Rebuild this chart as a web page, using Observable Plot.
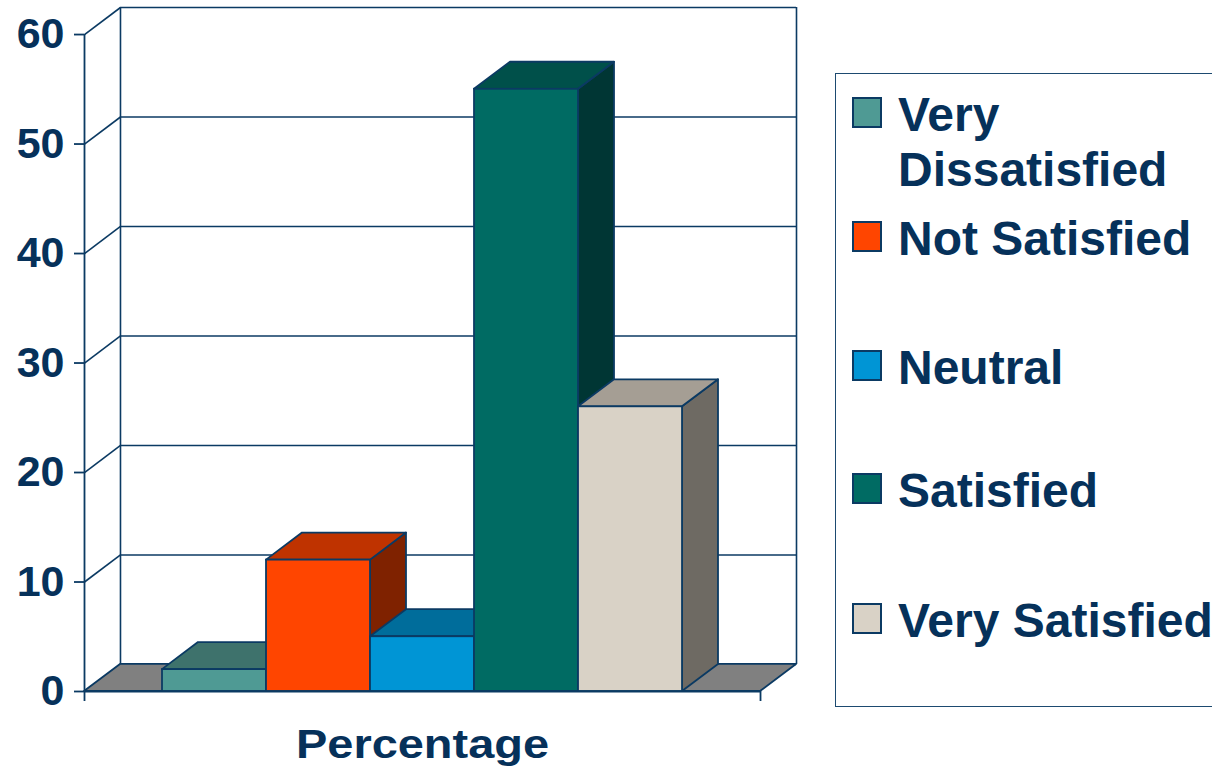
<!DOCTYPE html>
<html>
<head>
<meta charset="utf-8">
<script src="https://cdn.jsdelivr.net/npm/d3@7"></script>
<script src="https://cdn.jsdelivr.net/npm/@observablehq/plot@0.6"></script>
<style>
  html, body { margin: 0; padding: 0; background: #fff; }
  #wrap { position: relative; width: 1212px; height: 769px; overflow: hidden; font-family: "Liberation Sans", Arial, sans-serif; font-weight: bold; color: #06315a; }
  #chart { position: absolute; left: 0; top: 0; }
  #legend { position: absolute; left: 835px; top: 73px; width: 420px; height: 634px; border: 1.6px solid #1d4a70; box-sizing: border-box; }
  .sw { position: absolute; left: 852px; width: 30px; height: 31px; box-sizing: border-box; border: 2px solid #0b3a63; }
  .lab { position: absolute; left: 898px; width: 330px; font-size: 48px; line-height: 55px; white-space: normal; }
</style>
</head>
<body>
<div id="wrap">
  <div id="chart"></div>
  <div id="legend"></div>
</div>
<script>
// ---- data ----
const categories = ["Very Dissatisfied", "Not Satisfied", "Neutral", "Satisfied", "Very Satisfied"];
const values = [2, 12, 5, 55, 26];
const frontFill = ["#4f9a94", "#ff4500", "#0095d5", "#006b63", "#d9d2c6"];
const topFill = ["#3e726c", "#bf3300", "#006d9b", "#00504a", "#a59e94"];
const sideFill = ["#2f5450", "#7f2200", "#004a6a", "#003634", "#6e6a63"];
const yTicks = [0, 10, 20, 30, 40, 50, 60];
const xTitle = "Percentage";

// ---- layout ----
const NAVY = "#0b3a63";
const TEXT = "#06315a";
const D = 0.346;     // depth offset in x units
const Z = 2.47;      // depth offset in y units
const X0 = -0.75, X1 = categories.length + 0.75;
const YMAX = 60;

const bars = categories.map((cat, i) => ({cat, i, v: values[i]}));
const sidePts = bars.flatMap(b => [
  {cat: b.cat, x: b.i + 1, y1: 0, y2: b.v, fill: sideFill[b.i]},
  {cat: b.cat, x: b.i + 1 + D, y1: Z, y2: b.v + Z, fill: sideFill[b.i]}
]);
const topPts = bars.flatMap(b => [
  {cat: b.cat, y: b.v, x1: b.i, x2: b.i + 1, fill: topFill[b.i]},
  {cat: b.cat, y: b.v + Z, x1: b.i + D, x2: b.i + 1 + D, fill: topFill[b.i]}
]);
const floorPts = [{y: 0, x1: X0, x2: X1}, {y: Z, x1: X0 + D, x2: X1 + D}];
const leftWall = [{x: X0, y1: 0, y2: YMAX}, {x: X0 + D, y1: Z, y2: YMAX + Z}];

const W = 830;
const chart = Plot.plot({
  width: W, height: 769,
  marginLeft: 84, marginRight: W - 796, marginTop: 7, marginBottom: 78,
  x: {domain: [X0, X1 + D], axis: null},
  y: {domain: [0, YMAX + Z], axis: null},
  color: {type: "identity"},
  style: {fontFamily: "'Liberation Sans', Arial, sans-serif", fontWeight: "bold", color: TEXT, background: "white", overflow: "visible"},
  marks: [
    Plot.areaY(leftWall, {x: "x", y1: "y1", y2: "y2", fill: "white"}),
    Plot.ruleY(yTicks, {y: d => d + Z, x1: X0 + D, x2: X1 + D, stroke: NAVY, strokeWidth: 1.6}),
    Plot.ruleX([X0 + D, X1 + D], {y1: Z, y2: YMAX + Z, stroke: NAVY, strokeWidth: 1.6}),
    Plot.link(yTicks, {x1: X0, y1: d => d, x2: X0 + D, y2: d => d + Z, stroke: NAVY, strokeWidth: 1.6}),
    Plot.areaX(floorPts, {y: "y", x1: "x1", x2: "x2", fill: "#808080", stroke: NAVY, strokeWidth: 1.8}),
    Plot.areaY(sidePts, {x: "x", y1: "y1", y2: "y2", z: "cat", fill: "fill", stroke: NAVY, strokeWidth: 1.8, strokeLinejoin: "round"}),
    Plot.areaX(topPts, {y: "y", x1: "x1", x2: "x2", z: "cat", fill: "fill", stroke: NAVY, strokeWidth: 1.8, strokeLinejoin: "round"}),
    Plot.rect(bars, {x1: d => d.i, x2: d => d.i + 1, y1: 0, y2: "v", fill: (d) => frontFill[d.i], stroke: NAVY, strokeWidth: 1.8}),
    Plot.ruleX([X0], {y1: 0, y2: YMAX, stroke: NAVY, strokeWidth: 1.8}),
    Plot.ruleY([0], {x1: X0, x2: X1, stroke: NAVY, strokeWidth: 1.8}),
    Plot.axisY({ticks: yTicks, tickSize: 10, tickPadding: 10, fontSize: 43, label: null, stroke: NAVY, strokeWidth: 1.8, fill: TEXT}),
    Plot.axisX({ticks: [X0, X1], tickSize: 10, tickFormat: () => "", label: null, stroke: NAVY, strokeWidth: 1.8}),
    Plot.text([xTitle], {x: (X0 + X1) / 2, y: 0, dy: 53, text: d => d, fontSize: 41, fill: TEXT, className: "xtitle"})
  ]
});
document.getElementById("chart").appendChild(chart);
d3.select(chart).selectAll(".xtitle text").attr("textLength", 253).attr("lengthAdjust", "spacingAndGlyphs");

// ---- legend (HTML) ----
const baselines = [131, 255, 384, 507, 637];
const wrap = document.getElementById("wrap");
categories.forEach((c, i) => {
  const sw = document.createElement("div");
  sw.className = "sw";
  sw.style.top = (baselines[i] - 34) + "px";
  sw.style.background = frontFill[i];
  wrap.appendChild(sw);
  const lab = document.createElement("div");
  lab.className = "lab";
  lab.style.top = (baselines[i] - 44) + "px";
  lab.textContent = c;
  wrap.appendChild(lab);
});
</script>
</body>
</html>
